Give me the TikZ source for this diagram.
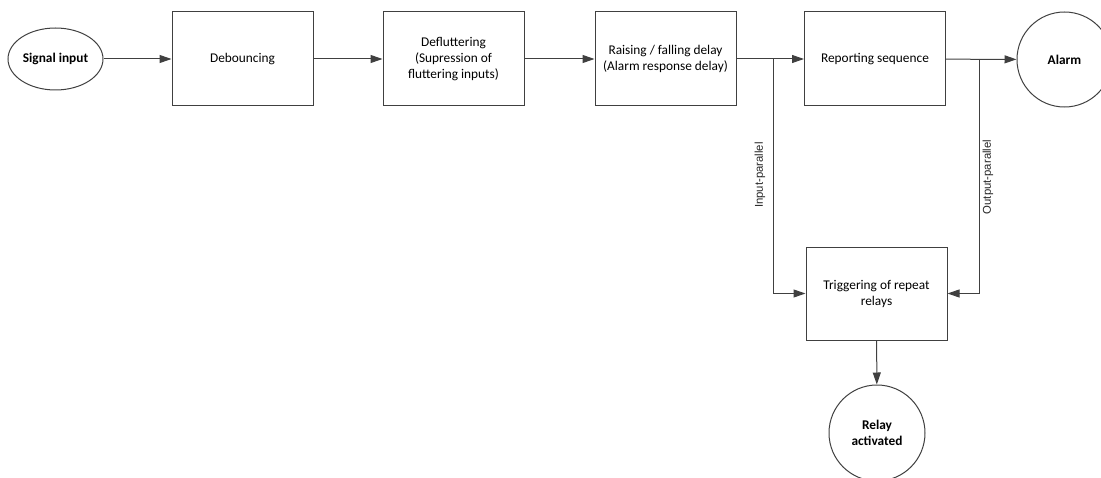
\documentclass[tikz,border=0pt]{standalone}
\usepackage{fontspec}
\setmainfont{Carlito}
\newfontfamily\sidefont{Liberation Sans}
\usetikzlibrary{calc, arrows.meta, shapes.geometric}

\tikzset{
  block/.style={draw=black!75, line width=0.75pt, minimum width=105.75pt, minimum height=70.5pt, align=center, inner sep=2pt, font=\fontsize{10}{12}\selectfont},
  terminal/.style={draw=black!75, line width=0.75pt, circle, minimum size=71.25pt, align=center, inner sep=0pt, font=\fontsize{10}{12}\selectfont\bfseries},
  flow/.style={draw=black!75, line width=0.75pt, -{Triangle[length=9pt, width=6pt]}},
  sidelabel/.style={rotate=90, font=\sidefont\fontsize{8.5}{10}\selectfont, text=black!85}
}

\begin{document}
\begin{tikzpicture}[x=0.75pt, y=-0.75pt]
\useasboundingbox (0, 0) rectangle (1101, 478);
% start
\node[terminal, ellipse, minimum width=71.25pt, minimum height=46.5pt] (sig) at (55.5, 59) {Signal input};
% processing chain
\node[block] (deb) at (242.5, 59) {Debouncing};
\node[block] (defl) at (453.5, 59) {Defluttering\\(Supression of\\fluttering inputs)};
\node[block] (rais) at (665.5, 59) {Raising / falling delay\\(Alarm response delay)};
\node[block] (rep) at (875, 59) {Reporting sequence};
\node[block, minimum height=69.75pt] (trig) at (876.5, 293.5) {Triggering of repeat\\relays};
% outcomes
\node[terminal] (alarm) at (1064.5, 59.5) {Alarm};
\node[terminal, minimum size=72pt] (relay) at (877, 433) {Relay\\activated};
% branch points
\coordinate (inpar) at (773, 59);
\coordinate (outpar) at (979, 59);
% connections
\draw[flow] (sig) -- (deb);
\draw[flow] (deb) -- (defl);
\draw[flow] (defl) -- (rais);
\draw[flow] (rais) -- (rep);
\draw[flow] (rep) -- (alarm);
\draw[flow] (inpar) |- (trig.west);
\draw[flow] (outpar) |- (trig.east);
\draw[flow] (trig) -- (relay);
% parallel labels
\node[sidelabel] (inlab) at (760, 175) {Input-parallel};
\node[sidelabel] (outlab) at (988, 177) {Output-parallel};
\end{tikzpicture}
\end{document}
